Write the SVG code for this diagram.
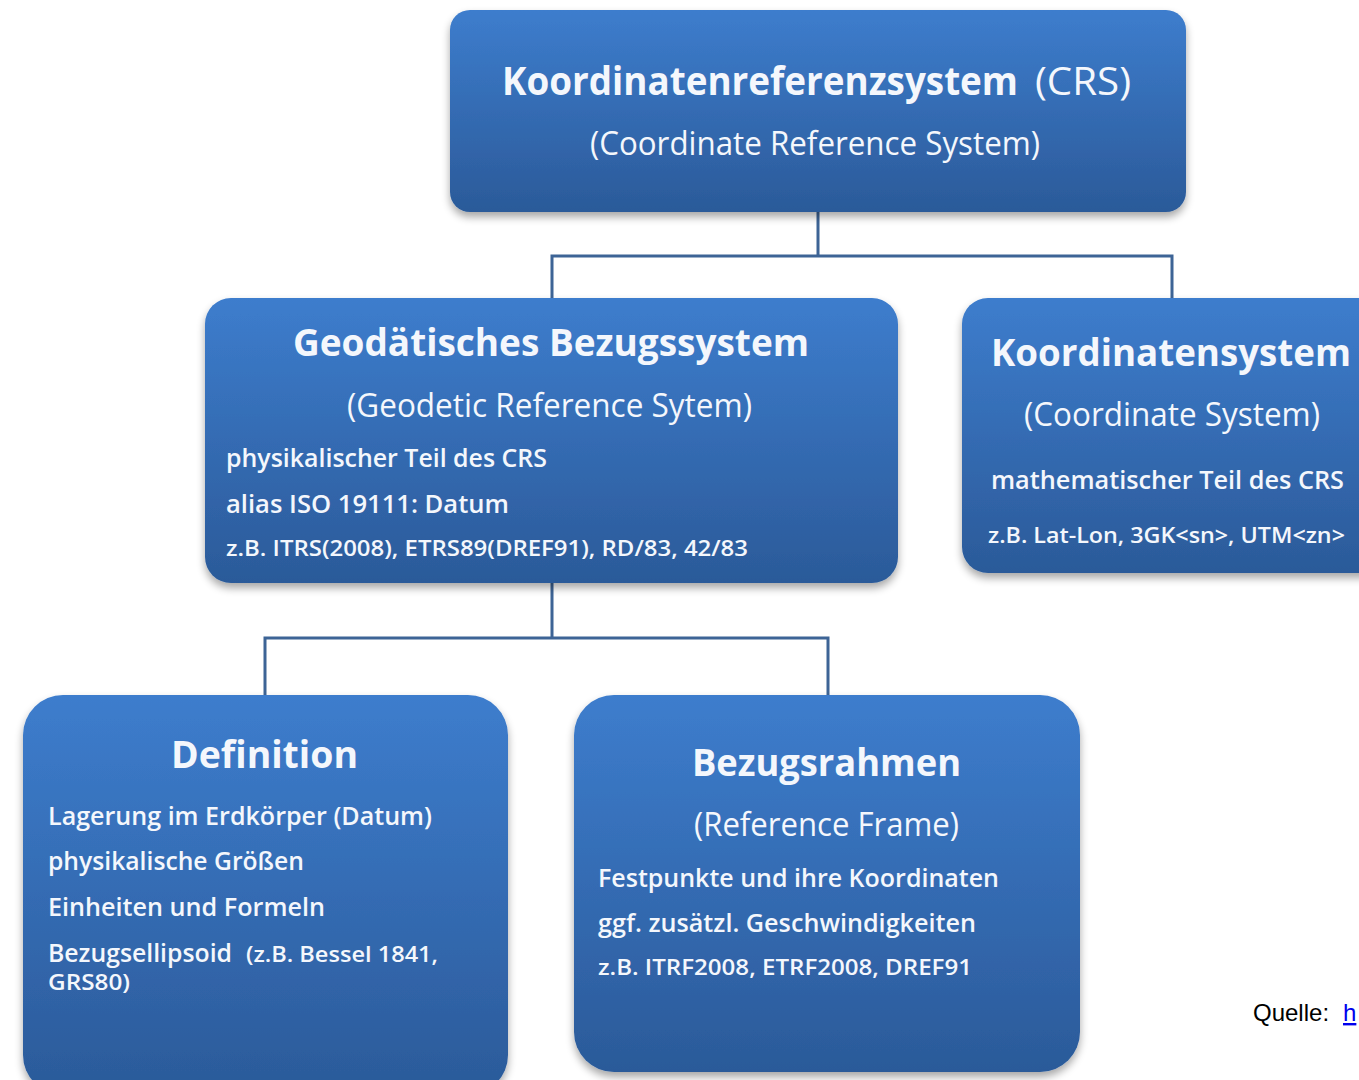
<svg xmlns="http://www.w3.org/2000/svg" width="1359" height="1080" viewBox="0 0 1359 1080">
<style>
.t{font-family:"Open Sans","Noto Sans","Liberation Sans",sans-serif;fill:#f4f7fc}
.h{font-weight:700;font-size:38px}
.s{font-weight:400;font-size:32px}
.b{font-weight:600;font-size:25px}
.e{font-weight:600;font-size:21px}
.c{fill:none;stroke:#3d6496;stroke-width:3}
.q{font-family:"Liberation Sans",Arial,sans-serif;font-size:24px;fill:#000}
</style>
<defs>
<linearGradient id="g" x1="0" y1="0" x2="0" y2="1">
<stop offset="0" stop-color="#3d7dcd"/>
<stop offset="1" stop-color="#2b5a99"/>
</linearGradient>
<filter id="sh" x="-10%" y="-10%" width="120%" height="130%">
<feGaussianBlur in="SourceAlpha" stdDeviation="4"/>
<feOffset dx="0" dy="5" result="o"/>
<feComponentTransfer><feFuncA type="linear" slope="0.35"/></feComponentTransfer>
<feMerge><feMergeNode/><feMergeNode in="SourceGraphic"/></feMerge>
</filter>
</defs>
<rect width="1359" height="1080" fill="#fff"/>
<g id="connectors">
<path class="c" d="M818 212V256M552 298V256H1172V298"/>
<path class="c" d="M552 583V638M265 695V638H828V695"/>
</g>
<g id="crs">
<rect x="450" y="10" width="736" height="202" rx="20" fill="url(#g)" filter="url(#sh)"/>
<text class="t" x="502" y="95" font-size="40" font-weight="700" textLength="516" lengthAdjust="spacingAndGlyphs">Koordinatenreferenzsystem</text>
<text class="t" x="1035" y="95" font-size="38" textLength="96" lengthAdjust="spacingAndGlyphs">(CRS)</text>
<text class="t s" x="590" y="155" textLength="450" lengthAdjust="spacingAndGlyphs">(Coordinate Reference System)</text>
</g>
<g id="geodetic">
<rect x="205" y="298" width="693" height="285" rx="26" fill="url(#g)" filter="url(#sh)"/>
<text class="t h" x="293" y="356" textLength="516" lengthAdjust="spacingAndGlyphs">Geodätisches Bezugssystem</text>
<text class="t s" x="347" y="417" textLength="405" lengthAdjust="spacingAndGlyphs">(Geodetic Reference Sytem)</text>
<text class="t b" x="226" y="467" textLength="321" lengthAdjust="spacingAndGlyphs">physikalischer Teil des CRS</text>
<text class="t b" x="226" y="513" textLength="283" lengthAdjust="spacingAndGlyphs">alias ISO 19111: Datum</text>
<text class="t e" x="226" y="556" textLength="522" lengthAdjust="spacingAndGlyphs">z.B. ITRS(2008), ETRS89(DREF91), RD/83, 42/83</text>
</g>
<g id="coordsys">
<rect x="962" y="298" width="430" height="275" rx="26" fill="url(#g)" filter="url(#sh)"/>
<text class="t h" x="991" y="366" textLength="360" lengthAdjust="spacingAndGlyphs">Koordinatensystem</text>
<text class="t s" x="1024" y="426" textLength="296" lengthAdjust="spacingAndGlyphs">(Coordinate System)</text>
<text class="t b" x="991" y="489" textLength="353" lengthAdjust="spacingAndGlyphs">mathematischer Teil des CRS</text>
<text class="t e" x="988" y="543" textLength="357" lengthAdjust="spacingAndGlyphs">z.B. Lat-Lon, 3GK&lt;sn&gt;, UTM&lt;zn&gt;</text>
</g>
<g id="definition">
<rect x="23" y="695" width="485" height="400" rx="40" fill="url(#g)" filter="url(#sh)"/>
<text class="t h" x="171" y="768" textLength="187" lengthAdjust="spacingAndGlyphs">Definition</text>
<text class="t b" x="48" y="825" textLength="384" lengthAdjust="spacingAndGlyphs">Lagerung im Erdkörper (Datum)</text>
<text class="t b" x="48" y="870" textLength="256" lengthAdjust="spacingAndGlyphs">physikalische Größen</text>
<text class="t b" x="48" y="916" textLength="277" lengthAdjust="spacingAndGlyphs">Einheiten und Formeln</text>
<text class="t b" x="48" y="962" textLength="184" lengthAdjust="spacingAndGlyphs">Bezugsellipsoid</text>
<text class="t e" x="246" y="962" textLength="192" lengthAdjust="spacingAndGlyphs">(z.B. Bessel 1841,</text>
<text class="t e" x="48" y="990" textLength="82" lengthAdjust="spacingAndGlyphs">GRS80)</text>
</g>
<g id="bezugsrahmen">
<rect x="574" y="695" width="506" height="377" rx="40" fill="url(#g)" filter="url(#sh)"/>
<text class="t h" x="692" y="776" textLength="269" lengthAdjust="spacingAndGlyphs">Bezugsrahmen</text>
<text class="t s" x="694" y="836" textLength="265" lengthAdjust="spacingAndGlyphs">(Reference Frame)</text>
<text class="t b" x="598" y="887" textLength="401" lengthAdjust="spacingAndGlyphs">Festpunkte und ihre Koordinaten</text>
<text class="t b" x="598" y="932" textLength="378" lengthAdjust="spacingAndGlyphs">ggf. zusätzl. Geschwindigkeiten</text>
<text class="t e" x="598" y="975" textLength="374" lengthAdjust="spacingAndGlyphs">z.B.  ITRF2008, ETRF2008, DREF91</text>
</g>
<g id="source">
<text class="q" x="1253" y="1021">Quelle: <tspan x="1343" fill="#0000ee" text-decoration="underline">h</tspan></text>
</g>
</svg>
